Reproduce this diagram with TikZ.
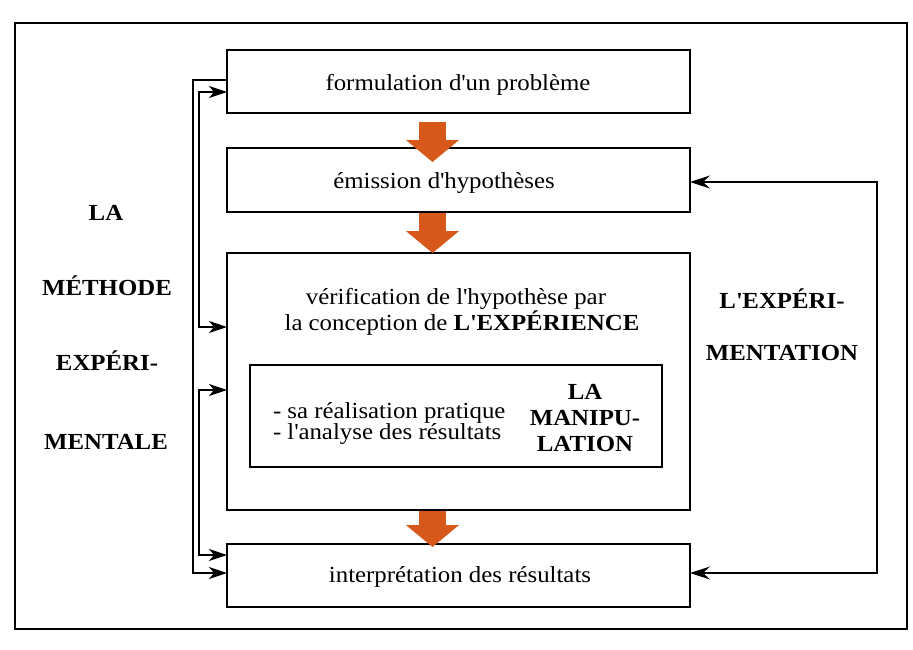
\documentclass[tikz,border=0pt]{standalone}
\usepackage{fontspec}
\setmainfont{Liberation Serif}[FakeStretch=1.08]
\usetikzlibrary{arrows.meta,calc}
\definecolor{fatorange}{RGB}{214,88,26}
\newcommand{\ap}{\textquotesingle}
\begin{document}
\begin{tikzpicture}[x=1pt,y=-1pt,
  every node/.style={inner sep=0pt, outer sep=0pt},
  box/.style={draw, line width=1.3pt, minimum width=463pt},
  txt/.style={font=\fontsize{23}{26}\selectfont, anchor=base},
  btxt/.style={font=\fontsize{23}{26}\selectfont\bfseries, anchor=base},
  fat/.style={line width=27pt, fatorange, -{Triangle[length=22pt,width=52pt]}},
  lconn/.style={line width=1.3pt, -{Stealth[length=18pt,width=12pt,inset=5pt]}},
  lconnb/.style={line width=1.3pt, {Stealth[length=18pt,width=12pt,inset=5pt]}-{Stealth[length=18pt,width=12pt,inset=5pt]}},
  rconnb/.style={line width=1.3pt, {Stealth[length=20pt,width=13pt,inset=7pt]}-{Stealth[length=20pt,width=13pt,inset=7pt]}},
]
\useasboundingbox (0,0) rectangle (913,649);
\node[draw, line width=1.5pt, minimum width=892pt, minimum height=606pt] (frame) at (461,326) {};

\node[box, minimum height=63pt] (b1) at (458.5,81.5) {};
\node[box, minimum height=64pt] (b2) at (458.5,180) {};
\node[box, minimum height=257pt] (b3) at (458.5,381.5) {};
\node[box, minimum height=63pt] (b4) at (458.5,575.5) {};
\node[draw, line width=1.3pt, minimum width=412pt, minimum height=102pt] (b5) at (456,416) {};

\node[txt] (t1) at (458,90) {formulation d\ap un problème};
\node[txt] (t2) at (444,188) {émission d\ap hypothèses};
\node[txt] (t3a) at (456,304) {vérification de l\ap hypothèse par};
\node[txt] (t3b) at (462,330) {la conception de \textbf{L\ap EXPÉRIENCE}};
\node[txt, anchor=base west] (t5a) at (273,418) {- sa réalisation pratique};
\node[txt, anchor=base west] (t5b) at (273,439) {- l\ap analyse des résultats};
\node[btxt] (m1) at (585,399) {LA};
\node[btxt] (m2) at (585,425) {MANIPU-};
\node[btxt] (m3) at (585,451) {LATION};
\node[txt] (t4) at (460,582) {interprétation des résultats};

\node[btxt] (l1) at (106,220) {LA};
\node[btxt] (l2) at (107,295) {MÉTHODE};
\node[btxt] (l3) at (107,370) {EXPÉRI-};
\node[btxt] (l4) at (106,449) {MENTALE};
\node[btxt] (r1) at (782,308) {L\ap EXPÉRI-};
\node[btxt] (r2) at (782,360) {MENTATION};

\draw[fat] ($(b1.south)+(-26,9)$) -- ($(b2.north)+(-26,14)$);
\draw[fat] ($(b2.south)+(-26,1)$) -- ($(b3.north)+(-26,0)$);
\draw[fat] ($(b3.south)+(-26,1)$) -- ($(b4.north)+(-26,3)$);

\draw[lconn] (b1.west |- 0,80) -- (193,80) -- (193,573) -- (b4.west |- 0,573);
\draw[lconnb] (b1.west |- 0,92) -- (199,92) -- (199,327) -- (b3.west |- 0,327);
\draw[lconnb] (b3.west |- 0,390) -- (199,390) -- (199,555) -- (b4.west |- 0,555);
\draw[rconnb] (b2.east |- 0,182) -- (877,182) -- (877,573) -- (b4.east |- 0,573);
\end{tikzpicture}
\end{document}
